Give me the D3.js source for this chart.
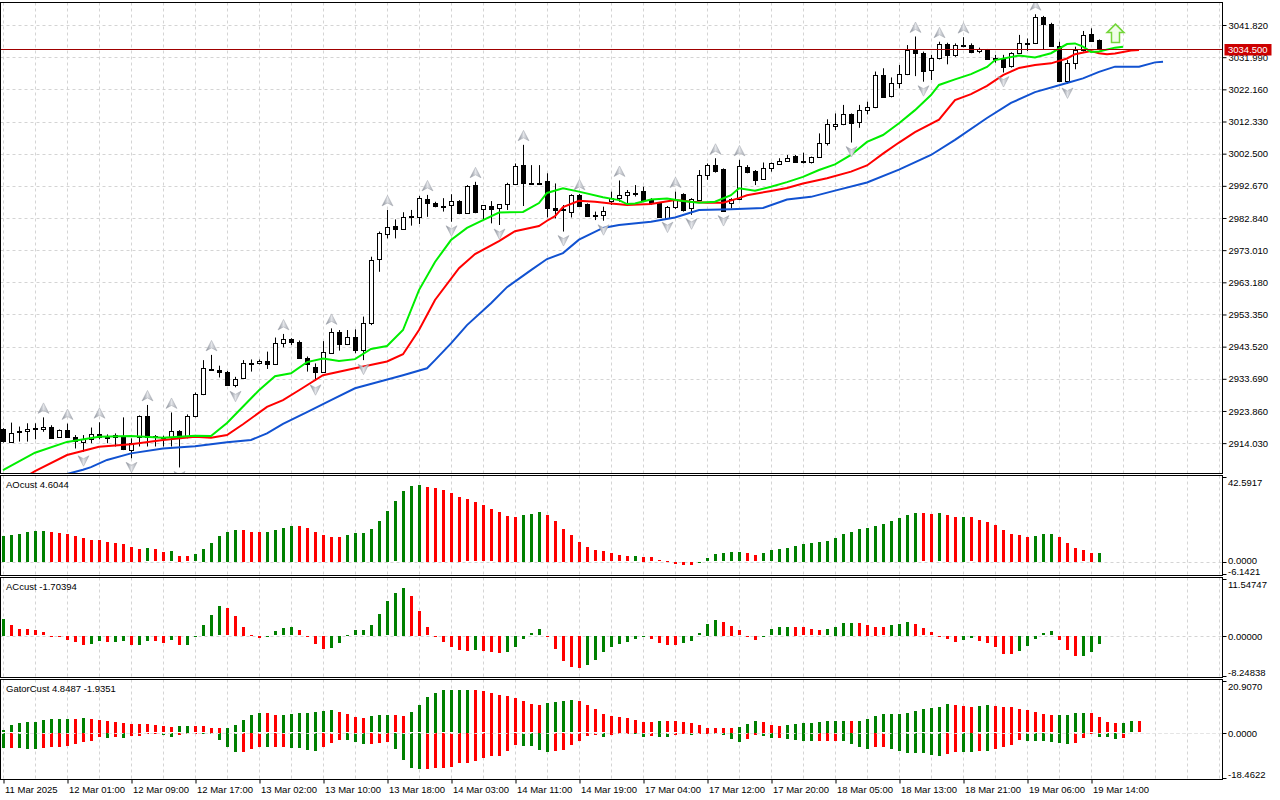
<!DOCTYPE html>
<html>
<head>
<meta charset="utf-8">
<script src="https://cdn.jsdelivr.net/npm/d3@7/dist/d3.min.js"></script>
<style>
body { margin: 0; background: #fff; }
svg text { font-family: "Liberation Sans", Arial, sans-serif; font-size: 9.5px; fill: #000; }
</style>
</head>
<body>
<svg id="chart" width="1280" height="800"></svg>
<script>

// Data

var openP = [2918.2,2914.5,2917.3,2917.7,2918.4,2918.6,2919.1,2916.0,2918.0,2915.8,
	2914.5,2915.3,2916.7,2916.0,2916.0,2916.0,2912.1,2916.0,2922.4,2916.0,
	2916.0,2916.0,2917.8,2916.0,2922.1,2928.9,2936.6,2936.4,2935.9,2931.7,
	2933.8,2938.6,2938.4,2939.1,2938.1,2944.7,2945.8,2945.0,2940.2,2937.2,
	2935.7,2941.8,2948.1,2944.5,2946.6,2942.5,2950.6,2970.2,2978.2,2980.4,
	2979.6,2983.2,2983.0,2988.5,2987.5,2986.5,2986.8,2988.0,2984.5,2992.9,
	2985.6,2986.6,2985.8,2987.1,2993.2,2999.0,2993.4,2993.6,2994.1,2986.0,
	2985.5,2984.6,2989.9,2987.1,2983.8,2983.8,2988.0,2989.1,2990.1,2990.6,
	2991.1,2988.6,2987.3,2983.0,2986.1,2990.2,2985.8,2988.3,2996.0,2999.0,
	2997.7,2987.3,2988.5,2998.5,2997.3,2994.7,2998.0,2999.5,3000.3,3001.8,
	3000.3,2999.8,3001.4,3005.7,3011.0,3011.5,3014.5,3012.0,3015.8,3016.7,
	3026.5,3019.9,3024.0,3026.8,3034.2,3033.4,3027.9,3031.6,3035.9,3032.5,
	3035.5,3035.7,3033.7,3034.2,3031.6,3031.4,3029.1,3033.2,3036.4,3036.2,
	3044.2,3042.1,3035.5,3024.8,3030.3,3034.2,3039.0,3037.2];

var highP = [2918.6,2920.3,2919.1,2920.1,2920.1,2921.9,2919.5,2918.2,2920.0,2916.5,
	2916.5,2918.8,2920.4,2916.7,2917.0,2921.9,2915.5,2922.5,2925.7,2916.5,
	2916.3,2923.4,2918.0,2922.8,2929.5,2939.4,2941.0,2937.7,2936.1,2934.3,
	2939.4,2939.6,2939.6,2942.0,2946.3,2947.4,2946.1,2945.4,2940.5,2938.4,
	2945.2,2949.1,2948.6,2948.6,2948.8,2952.7,2971.0,2978.7,2985.3,2982.4,
	2984.6,2985.3,2989.6,2989.9,2987.8,2988.9,2990.1,2988.3,2992.9,2993.9,
	2986.7,2988.0,2987.0,2993.6,2999.5,3005.2,2999.0,2999.0,2996.5,2993.4,
	2986.8,2990.1,2990.2,2987.3,2984.8,2986.3,2990.9,2994.3,2991.4,2992.9,
	2992.4,2988.9,2987.5,2986.5,2990.9,2990.4,2988.9,2997.5,2999.5,3001.1,
	2998.0,2988.9,3000.6,2999.0,2997.5,2999.8,2999.8,3001.1,3002.1,3002.1,
	3002.8,3001.6,3008.7,3013.0,3014.8,3017.4,3014.8,3017.4,3018.4,3027.6,
	3028.6,3025.8,3029.6,3035.7,3038.3,3033.7,3032.7,3036.7,3036.4,3036.2,
	3038.1,3036.2,3034.9,3034.5,3032.7,3032.7,3033.5,3038.8,3037.7,3045.1,
	3044.6,3042.5,3036.7,3031.1,3035.2,3040.0,3040.8,3037.4];

var lowP = [2914.2,2914.2,2914.5,2914.5,2915.2,2917.5,2915.5,2915.7,2915.9,2912.4,
	2911.4,2914.0,2915.2,2914.0,2913.0,2911.9,2909.4,2913.0,2913.0,2913.0,
	2913.0,2913.0,2906.6,2915.5,2921.9,2928.7,2936.1,2934.1,2931.5,2931.1,
	2933.6,2935.9,2938.1,2936.7,2937.9,2943.3,2944.0,2940.1,2935.9,2933.1,
	2935.6,2941.7,2942.3,2944.0,2941.5,2939.4,2950.1,2966.4,2976.6,2976.6,
	2979.4,2980.5,2981.0,2983.2,2986.1,2984.8,2981.7,2984.0,2984.3,2984.3,
	2982.2,2981.2,2980.7,2985.3,2993.0,2986.5,2993.2,2993.4,2983.0,2982.7,
	2978.7,2983.0,2986.4,2983.2,2982.2,2982.0,2986.8,2987.8,2986.5,2989.4,
	2987.8,2986.8,2983.0,2982.8,2985.6,2984.8,2983.8,2988.1,2994.5,2996.7,
	2984.8,2985.8,2988.3,2996.5,2992.9,2994.5,2997.0,2999.2,3000.1,2999.9,
	2999.5,2999.5,3001.2,3005.0,3009.7,3011.2,3005.9,3010.4,3014.5,3016.4,
	3019.7,3019.7,3022.5,3026.5,3026.2,3024.5,3025.0,3031.3,3029.8,3032.1,
	3035.0,3033.2,3033.2,3031.3,3030.3,3027.3,3028.8,3033.0,3033.9,3036.0,
	3034.2,3035.2,3024.5,3023.8,3028.3,3033.7,3036.7,3034.2];

var closeP = [2914.6,2917.2,2917.7,2918.4,2918.8,2919.1,2915.7,2918.0,2916.0,2914.5,
	2915.3,2916.7,2915.7,2915.7,2916.5,2912.4,2914.2,2922.4,2916.0,2916.2,
	2915.9,2917.8,2916.0,2922.3,2928.9,2936.9,2936.2,2935.7,2932.0,2933.5,
	2938.4,2938.5,2939.1,2938.1,2944.5,2945.8,2944.8,2940.2,2938.4,2935.7,
	2941.8,2948.1,2944.5,2946.6,2942.7,2950.6,2970.0,2978.2,2980.2,2979.6,
	2983.2,2983.3,2988.9,2987.3,2986.5,2986.6,2988.0,2984.3,2992.6,2984.6,
	2986.7,2985.8,2987.0,2993.2,2998.7,2993.4,2993.5,2993.6,2986.0,2985.5,
	2985.6,2989.9,2986.5,2983.5,2983.5,2985.0,2988.9,2989.9,2990.9,2990.6,
	2988.3,2987.3,2983.0,2986.3,2988.3,2985.3,2988.5,2996.0,2999.0,2997.3,
	2985.0,2988.5,2998.7,2997.0,2994.5,2998.0,2999.5,3000.3,3001.1,3000.1,
	2999.9,3001.4,3005.7,3011.5,3011.6,3014.5,3011.8,3015.8,3016.7,3026.5,
	3019.9,3024.0,3026.8,3034.2,3033.2,3027.9,3031.6,3035.9,3032.5,3035.7,
	3035.6,3033.7,3034.4,3031.6,3031.5,3029.1,3033.2,3036.2,3036.4,3044.2,
	3042.1,3035.5,3024.8,3030.3,3034.2,3038.8,3037.0,3034.5];

// alligator lines as [bar, price]
var lipsLine = [[0,2905.8],[4,2911.1],[8,2914.4],[12,2916.0],[16,2916.2],[20,2915.7],[24,2916.3],[26,2916.2],
	[28,2920.2],[32,2930.2],[34,2934.5],[36,2935.4],[38,2938.8],[40,2939.9],[42,2939.1],[44,2939.7],
	[46,2942.8],[48,2943.7],[50,2948.6],[52,2960.8],[54,2969.4],[56,2976.1],[58,2979.8],[60,2982.2],
	[62,2984.5],[65,2984.7],[67,2987.4],[68,2990.5],[70,2991.9],[72,2990.9],[75,2989.2],[77,2988.3],
	[78,2987.1],[79,2987.3],[81,2988.5],[83,2988.8],[85,2988.0],[87,2987.5],[89,2987.8],[91,2989.8],
	[92,2991.9],[94,2991.2],[96,2992.4],[98,2993.8],[100,2995.4],[102,2997.5],[104,2999.2],[106,3002.1],
	[108,3006.1],[110,3008.2],[112,3011.8],[114,3015.8],[116,3020.4],[117,3023.5],[119,3025.2],[121,3026.8],
	[123,3029.0],[124,3031.1],[127,3032.5],[129,3031.9],[131,3033.2],[133,3036.0],[134,3036.2],[135,3035.2],
	[136,3033.6],[137,3033.7],[139,3034.9],[140,3035.2]];

var teethLine = [[3,2904.0],[4,2905.5],[8,2910.4],[12,2912.9],[16,2913.7],[20,2915.0],[24,2916.0],[26,2915.7],
	[28,2916.5],[30,2919.8],[33,2925.1],[35,2927.2],[37,2930.2],[40,2934.8],[44,2936.9],[48,2939.0],
	[50,2941.2],[52,2948.6],[54,2957.8],[57,2967.5],[59,2971.8],[62,2975.8],[64,2978.8],[67,2980.4],
	[68,2982.0],[69,2983.4],[70,2986.2],[72,2988.1],[74,2987.8],[76,2987.3],[78,2986.8],[81,2987.1],
	[84,2988.3],[86,2987.8],[88,2987.5],[90,2987.5],[92,2988.9],[93,2989.8],[96,2991.1],[98,2992.0],
	[100,2993.4],[103,2995.0],[106,2997.0],[108,2998.9],[110,3002.5],[112,3005.9],[114,3009.1],[117,3012.9],
	[119,3018.9],[121,3020.7],[123,3023.2],[125,3026.5],[127,3028.7],[129,3029.6],[131,3030.1],[133,3031.6],
	[134,3032.9],[136,3033.9],[137,3033.2],[138,3032.9],[139,3033.1],[140,3033.6],[141,3034.0],[142,3034.2]];

var jawLine = [[8,2904.6],[10,2905.9],[11,2906.7],[13,2908.9],[16,2910.9],[20,2912.4],[24,2913.1],[28,2914.3],
	[31,2915.0],[33,2917.0],[35,2919.9],[38,2923.5],[41,2927.2],[44,2930.8],[47,2932.8],[50,2934.8],
	[53,2936.9],[54,2939.4],[56,2944.5],[58,2950.1],[61,2956.8],[63,2961.7],[66,2966.9],[68,2970.3],
	[70,2972.1],[72,2976.2],[75,2979.8],[77,2980.7],[81,2981.7],[84,2983.0],[87,2985.3],[91,2985.5],
	[95,2985.9],[98,2988.5],[101,2989.3],[104,2991.2],[108,2993.7],[112,2997.6],[116,3002.1],[119,3006.7],
	[123,3013.4],[126,3018.0],[129,3021.3],[133,3024.1],[135,3025.5],[137,3027.5],[139,3029.1],[142,3029.1],
	[144,3030.4],[145,3030.6]];

var fractalUp = [5,8,12,18,21,26,35,41,48,53,59,65,72,77,84,89,92,114,117,120,129];
var fractalDown = [10,16,22,29,39,45,56,62,70,75,83,86,90,106,115,125,133];

var signalBar = [139];
var signalPrice = [3042.1];

var lastPrice = 3034.5;

var aoValues = [13.0,13.5,14.0,15.0,15.5,15.6,15.0,14.5,14.0,13.0,
	12.1,11.1,11.0,10.1,9.6,9.1,7.6,6.6,6.7,6.2,
	4.7,5.2,2.9,2.7,3.7,6.6,9.6,13.0,15.0,16.0,
	15.9,15.0,14.9,15.0,16.0,17.0,18.0,17.9,17.0,15.0,
	13.5,12.6,12.5,13.5,14.5,14.6,16.5,20.4,25.4,30.3,
	35.7,38.2,38.6,37.7,37.2,36.2,34.7,32.7,31.3,29.8,
	28.3,26.3,24.9,22.9,22.4,23.4,23.9,24.9,23.4,20.4,
	16.5,13.5,10.1,7.6,5.7,5.2,4.2,3.2,2.7,2.75,
	2.6,2.2,0.7,0.2,-0.9,-1.4,-1.5,-0.3,1.7,3.7,
	4.2,4.7,4.75,4.2,3.2,4.2,5.7,6.6,7.1,8.1,
	9.1,9.6,10.1,10.6,12.1,14.0,15.0,16.5,17.0,18.0,
	19.0,20.4,21.9,23.4,24.4,24.3,24.2,24.35,23.4,22.4,
	22.45,22.3,20.9,19.9,18.5,16.0,14.0,13.5,12.5,13.0,
	14.0,14.05,12.5,9.6,7.1,5.7,4.5,4.6044];

var acValues = [3.37,2.24,1.39,1.25,1.06,0.66,-0.13,-0.26,-0.79,-1.32,
	-1.91,-1.65,-1.06,-1.32,-1.25,-1.06,-1.91,-1.85,-1.06,-1.10,
	-1.45,-0.86,-1.91,-1.88,-0.07,2.24,4.22,6.0,5.6,4.03,
	1.85,0.05,-0.46,-0.13,0.86,1.45,1.65,1.06,-0.13,-1.65,
	-2.7,-2.5,-1.45,0.07,1.06,1.07,2.24,4.42,7.0,8.78,
	9.77,8.18,5.0,1.65,-0.26,-1.25,-2.31,-2.84,-3.04,-2.84,
	-3.04,-3.23,-3.43,-3.23,-2.24,-0.66,0.46,1.25,-0.13,-2.64,
	-5.08,-6.27,-6.47,-5.87,-4.82,-3.23,-2.24,-1.65,-1.25,-0.66,
	-0.26,-0.66,-1.45,-1.85,-1.88,-1.45,-1.06,0.46,2.44,3.23,
	2.84,2.05,1.06,-0.07,-0.86,-0.07,1.25,1.65,1.85,1.84,
	1.65,1.25,1.06,1.25,1.85,2.64,2.65,2.63,2.24,1.85,
	1.65,2.24,2.44,2.84,2.44,1.45,0.66,-0.07,-0.66,-1.25,
	-0.86,-0.46,-1.06,-1.45,-2.24,-3.63,-3.64,-3.04,-2.05,-0.66,
	0.46,0.86,-0.86,-2.84,-4.03,-4.0,-3.23,-1.70394];

var gatorUp = [1.0,2.9,3.7,4.3,4.35,5.1,5.5,5.55,5.6,5.5,
	5.9,5.5,5.1,4.7,4.3,3.9,3.5,3.45,3.4,3.0,
	2.6,2.2,2.6,2.65,2.6,2.55,1.9,1.85,2.0,2.9,
	5.0,7.2,7.9,7.85,7.1,7.15,7.5,7.9,7.95,8.3,
	8.7,9.1,8.4,7.5,6.3,6.0,6.6,7.1,7.15,7.1,
	6.7,8.3,11.0,14.6,16.1,17.1,17.15,17.3,17.35,17.3,
	16.8,16.1,15.4,15.0,13.9,12.6,11.4,11.35,12.0,12.2,
	12.6,13.0,12.6,11.0,9.4,7.5,6.7,6.3,5.9,5.1,
	4.3,4.25,4.7,4.65,4.6,4.3,3.9,3.1,2.0,1.95,
	1.9,1.85,2.4,3.5,4.7,4.3,3.1,2.8,3.1,3.5,
	3.9,3.95,4.3,4.7,4.75,4.8,4.75,4.8,5.5,6.7,
	7.5,7.55,7.6,7.9,8.7,9.4,9.8,10.2,11.4,11.35,
	10.6,10.55,10.6,11.0,10.6,10.55,10.5,9.4,9.1,8.3,
	7.5,7.1,7.15,7.2,7.9,7.95,7.9,6.3,4.2,3.7,
	3.9,4.6,4.5];

var gatorDown = [-6.2,-6.2,-6.25,-6.3,-6.35,-6.2,-5.8,-5.5,-5.2,-4.6,
	-3.8,-3.3,-1.6,-2.0,-1.8,-2.2,-1.3,-1.05,-0.5,-0.3,
	-0.7,-1.8,-0.7,-0.3,-0.15,-0.25,-0.5,-2.9,-5.5,-7.9,
	-7.85,-6.6,-5.8,-5.85,-5.8,-5.75,-6.2,-6.25,-7.1,-7.15,
	-5.5,-4.2,-2.8,-2.9,-3.8,-4.6,-4.55,-4.2,-3.8,-6.6,
	-11.0,-14.3,-14.7,-14.65,-14.3,-14.25,-13.6,-12.3,-12.25,-11.2,
	-10.1,-9.2,-9.15,-7.3,-5.0,-5.25,-5.3,-7.0,-7.6,-7.5,
	-7.1,-5.0,-3.1,-1.05,-0.65,-1.45,-0.7,-0.3,-0.25,-0.3,
	-1.45,-1.4,-1.45,-1.5,-0.7,-0.3,-0.65,-0.3,-0.25,-0.3,
	-0.7,-2.6,-3.8,-2.6,-0.7,-1.05,-2.2,-2.15,-2.6,-3.0,
	-3.05,-3.4,-3.35,-3.3,-3.25,-3.3,-4.6,-5.8,-6.6,-5.8,
	-5.75,-6.6,-7.5,-8.1,-8.15,-8.2,-8.9,-9.3,-8.5,-7.7,
	-7.75,-7.8,-7.35,-7.4,-6.6,-5.8,-5.0,-3.0,-3.05,-3.1,
	-3.4,-3.8,-4.2,-4.6,-4.2,-2.2,-0.2,-1.45,-1.6,-2.4,
	-2.0];

var priceTicks = [3041.82,3031.99,3022.16,3012.33,3002.50,2992.67,2982.84,2973.01,2963.18,2953.35,2943.52,2933.69,2923.86,2914.03];

var timeBars = [0,8,16,24,32,40,48,56,64,72,80,88,96,104,112,120,128,136];
var timeLabels = ["11 Mar 2025","12 Mar 01:00","12 Mar 09:00","12 Mar 17:00","13 Mar 02:00","13 Mar 10:00",
	"13 Mar 18:00","14 Mar 03:00","14 Mar 11:00","14 Mar 19:00","17 Mar 04:00","17 Mar 12:00",
	"17 Mar 20:00","18 Mar 05:00","18 Mar 13:00","18 Mar 21:00","19 Mar 06:00","19 Mar 14:00"];

// Layout

var plotL = 0.5, plotR = 1222.5;
var svg = d3.select("#chart");

var x = d3.scaleLinear().domain([0, 1]).range([3, 11]);
function xc(i) { return Math.round(x(i)) + 0.5; }

var panels = [
	{ id: "main", top: 2.5, bottom: 473.5, y: d3.scaleLinear().domain([2904.75, 3048.7]).range([473.5, 2.5]) },
	{ id: "ao", top: 475.5, bottom: 575.5, y: d3.scaleLinear().domain([-6.1421, 42.5917]).range([574, 477]),
		title: "AOcust 4.6044", labels: [[42.5917, "42.5917", 5], [0, "0.0000", -1.5], [-6.1421, "-6.1421", -2.5]] },
	{ id: "ac", top: 577.5, bottom: 677.5, y: d3.scaleLinear().domain([-8.24838, 11.54747]).range([676, 579]),
		title: "ACcust -1.70394", labels: [[11.54747, "11.54747", 5], [0, "0.00000", 0], [-8.24838, "-8.24838", -4]] },
	{ id: "gator", top: 679.5, bottom: 779.5, y: d3.scaleLinear().domain([-18.4622, 20.907]).range([778, 681]),
		title: "GatorCust 4.8487 -1.9351", labels: [[20.907, "20.9070", 5], [0, "0.0000", 0], [-18.4622, "-18.4622", -4]] }
];

var gridBars = d3.range(0, 153, 4);

panels.forEach(function(p) {
	svg.append("clipPath").attr("id", "clip-" + p.id)
		.append("rect").attr("x", plotL).attr("y", p.top).attr("width", plotR - plotL).attr("height", p.bottom - p.top);

	p.g = svg.append("g").attr("clip-path", "url(#clip-" + p.id + ")");

	p.g.selectAll(".vgrid").data(gridBars).enter().append("line")
		.attr("x1", function(d) { return xc(d); }).attr("x2", function(d) { return xc(d); })
		.attr("y1", p.top).attr("y2", p.bottom)
		.attr("stroke", "#d4d4d4").attr("stroke-dasharray", "3,3");

	var hLines = p.id == "main" ? priceTicks : [0];
	p.g.selectAll(".hgrid").data(hLines).enter().append("line")
		.attr("x1", plotL).attr("x2", plotR)
		.attr("y1", function(d) { return Math.round(p.y(d)) + 0.5; })
		.attr("y2", function(d) { return Math.round(p.y(d)) + 0.5; })
		.attr("stroke", "#d4d4d4").attr("stroke-dasharray", "3,3");
});

var main = panels[0], ao = panels[1], ac = panels[2], gator = panels[3];

// Main panel: candles

var candles = openP.map(function(o, i) {
	return { i: i, o: o, h: highP[i], l: lowP[i], c: closeP[i] };
});

main.g.selectAll(".wick").data(candles).enter().append("line")
	.attr("x1", function(d) { return xc(d.i); }).attr("x2", function(d) { return xc(d.i); })
	.attr("y1", function(d) { return main.y(d.h); }).attr("y2", function(d) { return main.y(d.l); })
	.attr("stroke", "#000").attr("stroke-width", 1);

main.g.selectAll(".body").data(candles).enter().append("rect")
	.attr("x", function(d) { return xc(d.i) - 2; })
	.attr("width", 4)
	.attr("y", function(d) { return Math.round(main.y(Math.max(d.o, d.c))) + 0.5; })
	.attr("height", function(d) { return Math.max(1, Math.round(Math.abs(main.y(d.o) - main.y(d.c)))); })
	.attr("fill", function(d) { return d.c >= d.o ? "#fff" : "#000"; })
	.attr("stroke", "#000").attr("stroke-width", 1)
	.attr("shape-rendering", "crispEdges");

// alligator

var line = d3.line()
	.x(function(d) { return x(d[0]); })
	.y(function(d) { return main.y(d[1]); });

[[jawLine, "#1152d1"], [teethLine, "#ff0000"], [lipsLine, "#00ee00"]].forEach(function(s) {
	main.g.append("path").attr("d", line(s[0]))
		.attr("fill", "none").attr("stroke", s[1]).attr("stroke-width", 2);
});

// fractals

var grad = svg.append("defs").append("linearGradient").attr("id", "fracGrad")
	.attr("x1", "0").attr("y1", "0").attr("x2", "1").attr("y2", "0");
grad.append("stop").attr("offset", "0").attr("stop-color", "#7d838e");
grad.append("stop").attr("offset", "0.5").attr("stop-color", "#e2e4e8");
grad.append("stop").attr("offset", "1").attr("stop-color", "#a2a6ae");

main.g.selectAll(".fup").data(fractalUp).enter().append("path")
	.attr("d", "M0,-5.5L5.5,5L0,2L-5.5,5Z")
	.attr("transform", function(d) { return "translate(" + xc(d) + "," + (main.y(highP[d]) - 9) + ")"; })
	.attr("fill", "url(#fracGrad)").attr("stroke", "#a0a4ac").attr("stroke-width", 0.5);

main.g.selectAll(".fdown").data(fractalDown).enter().append("path")
	.attr("d", "M0,5.5L5.5,-5L0,-2L-5.5,-5Z")
	.attr("transform", function(d) { return "translate(" + xc(d) + "," + (main.y(lowP[d]) + 9) + ")"; })
	.attr("fill", "url(#fracGrad)").attr("stroke", "#a0a4ac").attr("stroke-width", 0.5);

// signal arrow

main.g.selectAll(".signal").data(signalBar).enter().append("path")
	.attr("d", "M0,0L8.5,8.5L4,8.5L4,18.5L-4,18.5L-4,8.5L-8.5,8.5Z")
	.attr("transform", function(d, k) { return "translate(" + xc(d) + "," + main.y(signalPrice[k]) + ")"; })
	.attr("fill", "#f0fde8").attr("stroke", "#74d63a").attr("stroke-width", 1.5);

// last price line

var yLast = Math.round(main.y(lastPrice)) + 0.5;
main.g.append("line").attr("x1", plotL).attr("x2", plotR).attr("y1", yLast).attr("y2", yLast)
	.attr("stroke", "#a00000").attr("stroke-width", 1);

// Sub panels

function histColor(values) {
	return values.map(function(v, i) {
		if (i == 0) return "#008000";
		return v > values[i - 1] ? "#008000" : "#ff0000";
	});
}

function absColor(values) {
	return values.map(function(v, i) {
		if (i == 0) return "#008000";
		return Math.abs(v) > Math.abs(values[i - 1]) ? "#008000" : "#ff0000";
	});
}

function drawHist(p, values, colors) {
	p.g.append("g").selectAll("rect").data(values).enter().append("rect")
		.attr("x", function(d, i) { return Math.round(x(i)) - 1; })
		.attr("width", 3)
		.attr("y", function(d) { return Math.round(Math.min(p.y(d), p.y(0))); })
		.attr("height", function(d) { return Math.max(1, Math.round(Math.abs(p.y(d) - p.y(0)))); })
		.attr("fill", function(d, i) { return colors[i]; })
		.attr("shape-rendering", "crispEdges");
}

drawHist(ao, aoValues, histColor(aoValues));
drawHist(ac, acValues, histColor(acValues));
drawHist(gator, gatorUp, absColor(gatorUp));
drawHist(gator, gatorDown, absColor(gatorDown));

gator.g.append("line").attr("x1", plotL).attr("x2", plotR)
	.attr("y1", Math.round(gator.y(0)) + 0.5).attr("y2", Math.round(gator.y(0)) + 0.5)
	.attr("stroke", "#e4e4e4").attr("stroke-dasharray", "3,3");

// Frames, axes and labels

panels.forEach(function(p) {
	svg.append("rect").attr("x", plotL).attr("y", p.top)
		.attr("width", plotR - plotL).attr("height", p.bottom - p.top)
		.attr("fill", "none").attr("stroke", "#000").attr("stroke-width", 1);

	if (p.title) {
		svg.append("text").attr("x", 6).attr("y", p.top + 12.5).text(p.title);
		p.labels.forEach(function(l) {
			var ty = Math.round(p.y(l[0])) + 0.5;
			svg.append("line").attr("x1", plotR).attr("x2", plotR + 4).attr("y1", ty).attr("y2", ty).attr("stroke", "#000");
			svg.append("text").attr("x", plotR + 5.5).attr("y", ty + l[2]).attr("dy", "0.35em").text(l[1]);
		});
	}
});

var priceAxis = d3.axisRight(main.y).tickValues(priceTicks).tickSize(4).tickPadding(2)
	.tickFormat(function(d) { return d.toFixed(3); });
svg.append("g").attr("transform", "translate(" + plotR + ",0)").call(priceAxis)
	.call(function(g) { g.select(".domain").remove(); });

// last price tag
svg.append("rect").attr("x", plotR + 2).attr("y", yLast - 5.5).attr("width", 47).attr("height", 11.5).attr("fill", "#cc0000");
svg.append("text").attr("x", plotR + 5.5).attr("y", yLast).attr("dy", "0.35em").style("fill", "#fff")
	.text(lastPrice.toFixed(3));

// time axis
var timeAxis = d3.axisBottom(x).tickValues(timeBars).tickSize(4).tickPadding(3)
	.tickFormat(function(d, i) { return timeLabels[i]; });
svg.append("g").attr("transform", "translate(0.5," + gator.bottom + ")").call(timeAxis)
	.call(function(g) { g.select(".domain").remove(); })
	.call(function(g) { g.selectAll("text").attr("text-anchor", "start").attr("x", 1); });

</script>
</body>
</html>
